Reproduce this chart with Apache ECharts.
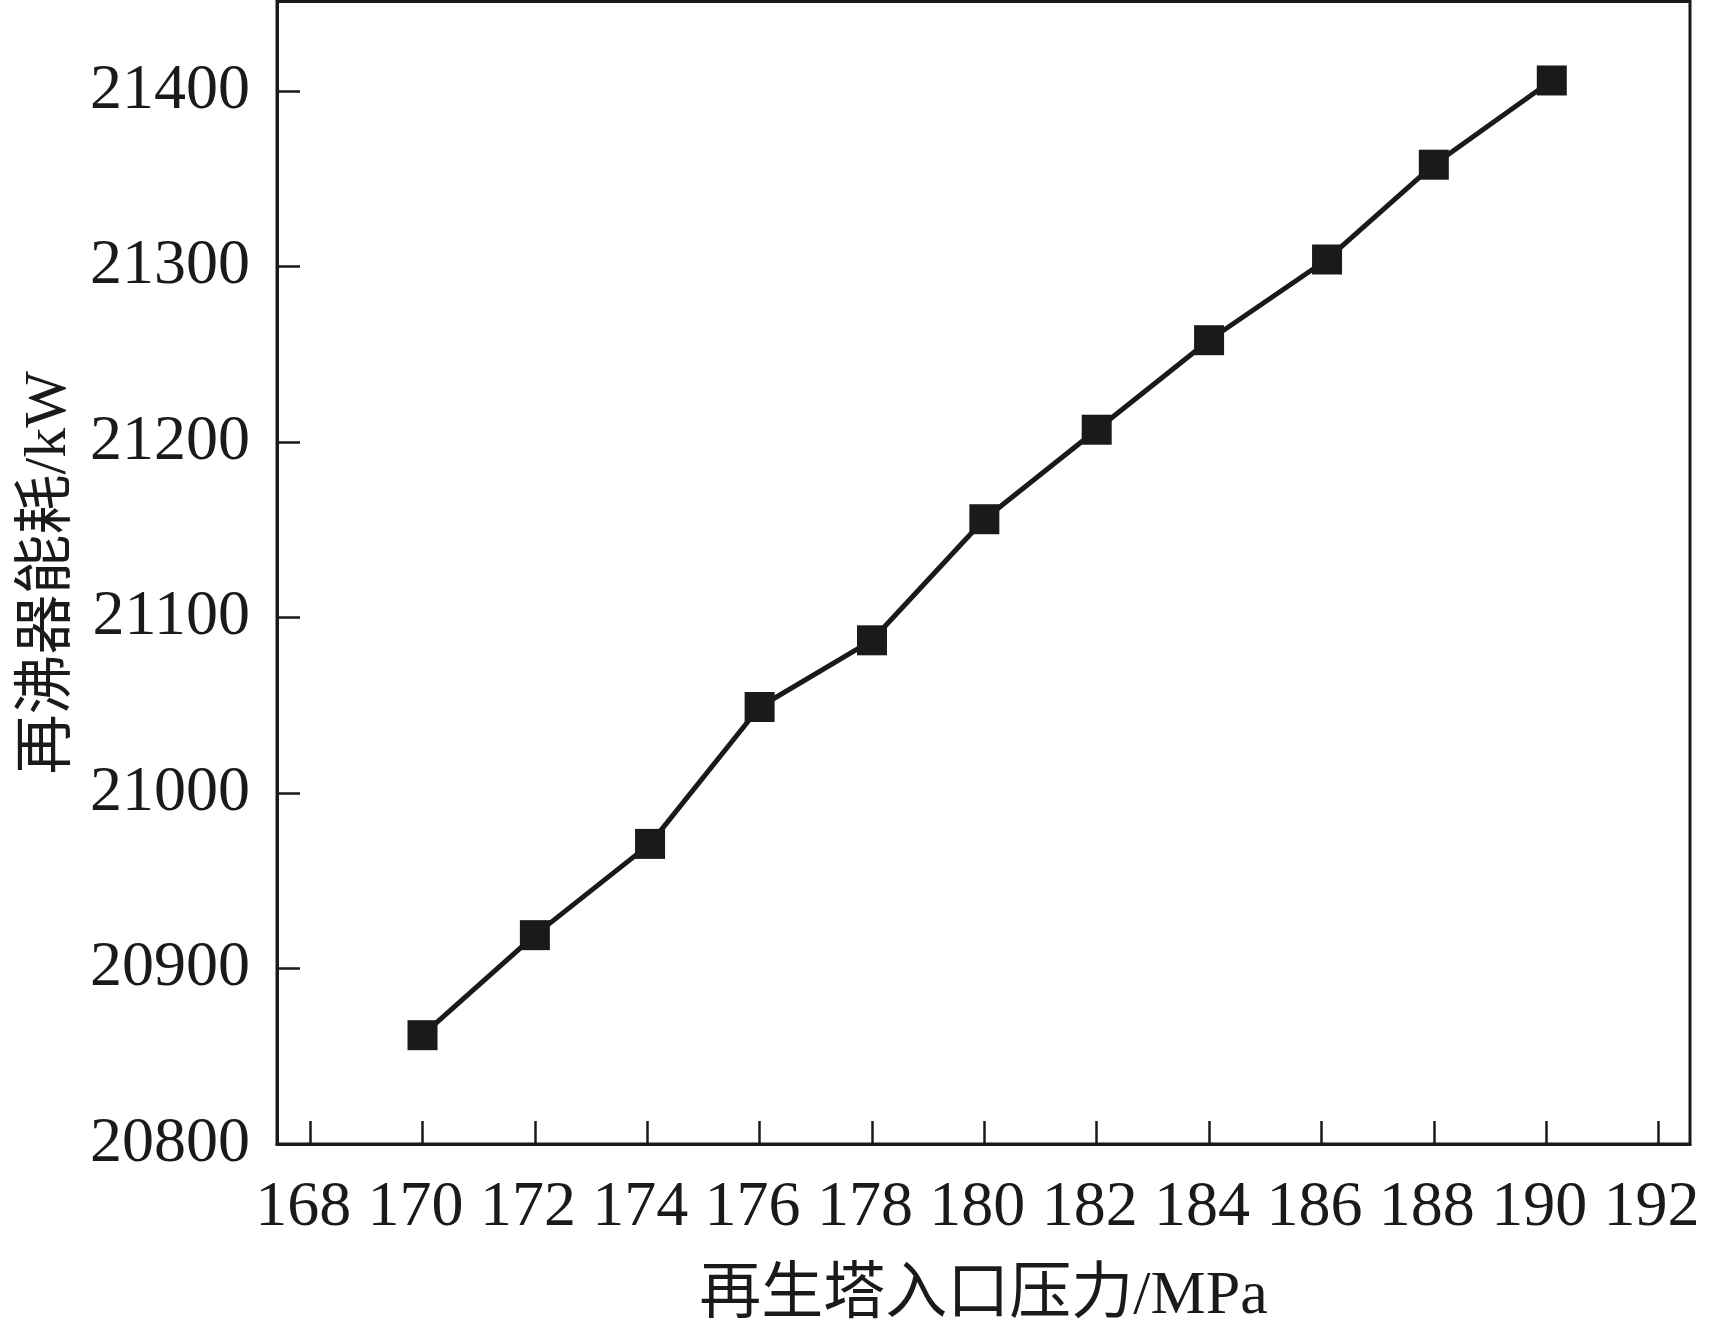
<!DOCTYPE html>
<html>
<head>
<meta charset="utf-8">
<script src="https://cdn.jsdelivr.net/npm/echarts@6/dist/echarts.min.js"></script>
<style>
html,body{margin:0;padding:0;background:#fff;}
#chart{width:1713px;height:1336px;}
</style>
</head>
<body>
<div id="chart"></div>
<script>
// Data
const pressure = [170, 172, 174.05, 176, 178, 180, 182, 184, 186.1, 188, 190.1];
const duty = [20862, 20919, 20971, 21049, 21087, 21156, 21207, 21258, 21304, 21358, 21406];
const xTicks = [168, 170, 172, 174, 176, 178, 180, 182, 184, 186, 188, 190, 192];
const yTicks = [20800, 20900, 21000, 21100, 21200, 21300, 21400];
const xName = '再生塔入口压力/MPa';
const yName = '再沸器能耗/kW';

const ink = '#1a1a1a';
const fontFam = '"Liberation Serif", "Noto Sans CJK SC", serif';
const chart = echarts.init(document.getElementById('chart'));
chart.setOption({
  animation: false,
  backgroundColor: '#fff',
  grid: {
    left: 277, top: 1.5, right: 23, bottom: 192,
    containLabel: false, outerBoundsMode: 'none',
    show: true, borderColor: ink, borderWidth: 3, backgroundColor: 'transparent'
  },
  xAxis: {
    type: 'value',
    min: 167.41, max: 192.56,
    name: xName, nameLocation: 'middle', nameGap: 122,
    nameTextStyle: { color: ink, fontSize: 62, fontFamily: fontFam },
    axisLine: { show: true, lineStyle: { color: ink, width: 3 } },
    axisTick: { show: true, inside: true, length: 23, customValues: xTicks, lineStyle: { color: ink, width: 2.5 } },
    axisLabel: { customValues: xTicks, color: ink, fontSize: 64, fontFamily: fontFam, margin: 32,
      padding: [0, 14, 0, 0], formatter: v => String(v) },
    splitLine: { show: false }
  },
  yAxis: {
    type: 'value',
    min: 20800, max: 21451,
    name: yName, nameLocation: 'middle', nameGap: 195,
    nameTextStyle: { color: ink, fontSize: 60, fontFamily: fontFam },
    axisLine: { show: true, lineStyle: { color: ink, width: 3 } },
    axisTick: { show: true, inside: true, length: 23, customValues: yTicks, lineStyle: { color: ink, width: 2.5 } },
    axisLabel: { customValues: yTicks, color: ink, fontSize: 64, fontFamily: fontFam, margin: 27,
      formatter: v => String(v) },
    splitLine: { show: false }
  },
  series: [{
    type: 'line',
    data: pressure.map((p, i) => [p, duty[i]]),
    symbol: 'rect',
    symbolSize: 30,
    itemStyle: { color: ink },
    lineStyle: { color: ink, width: 5 }
  }]
});
</script>
</body>
</html>
